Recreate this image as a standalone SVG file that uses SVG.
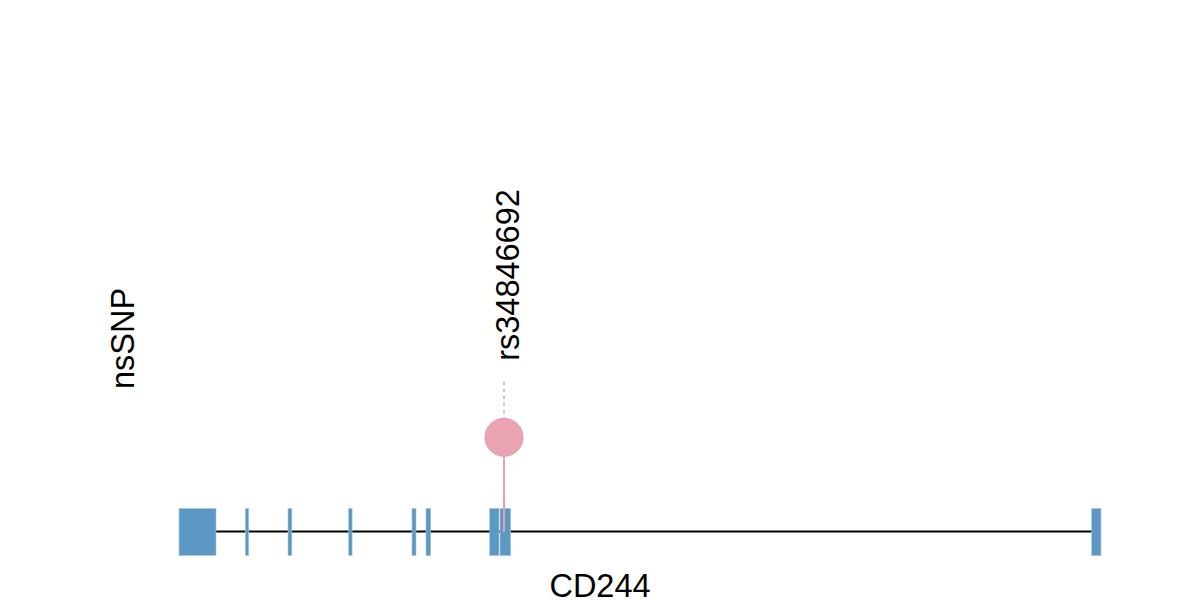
<svg xmlns="http://www.w3.org/2000/svg" width="1200" height="600" viewBox="0 0 1200 600">
<style>
.exon{fill:#5b98c4;stroke:#a8c6de;stroke-width:0.6}
.lbl{font-family:"Liberation Sans",Arial,sans-serif;font-size:32.5px;fill:#000}
</style>
<rect width="1200" height="600" fill="#fff"/>
<g id="connectors">
<line x1="216" y1="531.5" x2="1092" y2="531.5" stroke="#000" stroke-width="2"/>
<line x1="504" y1="382" x2="504" y2="418" stroke="#c4c4c4" stroke-width="2" stroke-dasharray="3,4"/>
</g>
<g id="gene">
<rect class="exon" x="179" y="508.5" width="37" height="47"/>
<rect class="exon" x="245.3" y="508.5" width="3.4" height="47"/>
<rect class="exon" x="288" y="508.5" width="3.8" height="47"/>
<rect class="exon" x="348.7" y="508.5" width="3.4" height="47"/>
<rect class="exon" x="412" y="508.5" width="4" height="47"/>
<rect class="exon" x="426" y="508.5" width="4.7" height="47"/>
<rect class="exon" x="489.7" y="508.5" width="9.3" height="47"/>
<rect class="exon" x="500" y="508.5" width="10.7" height="47"/>
<rect class="exon" x="1091.7" y="508.5" width="9.3" height="47"/>
</g>
<g id="snp">
<line x1="504" y1="455" x2="504" y2="532" stroke="#e8a0b2" stroke-width="2"/>
<circle cx="504" cy="437.3" r="19" fill="#e9a3b2" stroke="#e49aab" stroke-width="1"/>
</g>
<g id="labels">
<text class="lbl" x="600" y="597" text-anchor="middle">CD244</text>
<text class="lbl" transform="translate(133.5,338.5) rotate(-90)" text-anchor="middle">nsSNP</text>
<text class="lbl" transform="translate(518.5,275) rotate(-90)" text-anchor="middle">rs34846692</text>
</g>
</svg>
